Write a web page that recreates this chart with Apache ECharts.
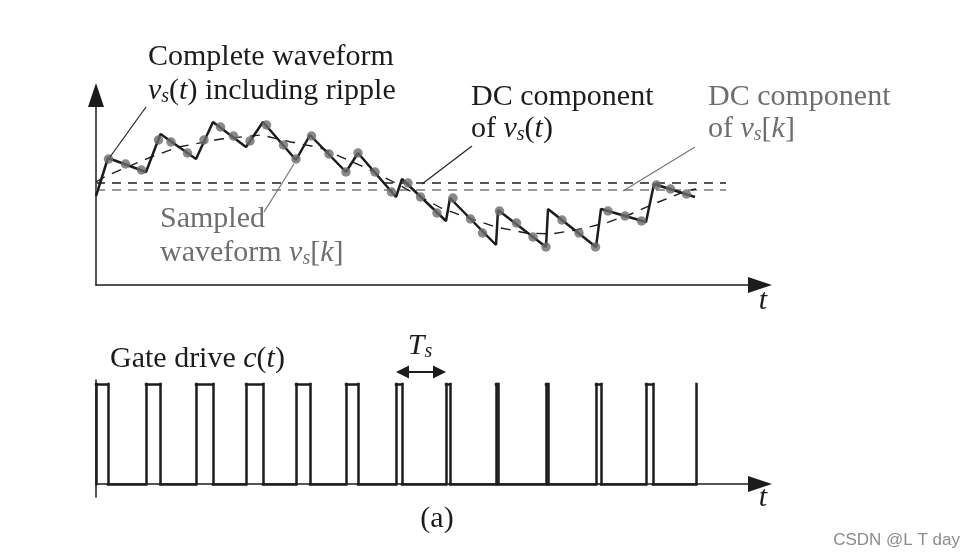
<!DOCTYPE html>
<html>
<head>
<meta charset="utf-8">
<script src="https://cdn.jsdelivr.net/npm/echarts@6/dist/echarts.min.js"></script>
<style>
html, body { margin: 0; padding: 0; background: #fff; }
#main { width: 975px; height: 559px; }
</style>
</head>
<body>
<div id="main"></div>
<script>
// time is in units of the switching period Ts
// corner points of the complete waveform vs(t)
var waveT = [0, 0.24, 1, 1.29, 2, 2.34, 3, 3.34, 4, 4.28, 5, 5.24, 6, 6.12, 7, 7.08, 8, 8.04, 9, 9.04, 10, 10.1, 11, 11.16, 11.98];
var waveV = [8.9, 12.7, 11.3, 15.1, 12.6, 16.3, 13.8, 16.3, 12.5, 15.0, 11.3, 13.2, 8.8, 10.6, 6.4, 8.7, 4.0, 7.5, 3.8, 7.6, 3.8, 7.6, 6.3, 10.1, 8.8];
// sampled waveform vs[k]
var sampT = [0.25, 0.59, 0.91, 1.25, 1.5, 1.83, 2.16, 2.49, 2.75, 3.08, 3.41, 3.75, 4.0, 4.31, 4.66, 5.0, 5.24, 5.58, 5.91, 6.24, 6.49, 6.82, 7.14, 7.49, 7.73, 8.07, 8.41, 8.74, 9.0, 9.32, 9.66, 9.99, 10.24, 10.58, 10.91, 11.21, 11.49, 11.81];
var sampV = [12.6, 12.1, 11.5, 14.5, 14.3, 13.2, 14.5, 15.8, 14.9, 14.4, 16.0, 14.0, 12.6, 14.9, 13.1, 11.3, 13.2, 11.3, 9.3, 10.2, 8.8, 7.2, 8.7, 6.6, 5.2, 7.4, 6.2, 4.8, 3.8, 6.5, 5.2, 3.8, 7.4, 6.9, 6.4, 10.0, 9.6, 9.1];
// local average of vs(t) (dashed)
var trendT = [0, 0.2, 1.1, 1.65, 2.5, 3.3, 3.9, 4.5, 5.4, 5.95, 6.9, 7.45, 8.0, 8.6, 9.1, 9.6, 10.2, 10.7, 11.2, 11.8, 12.0];
var trendV = [10.3, 10.9, 12.8, 13.8, 14.6, 15.0, 14.3, 13.7, 11.7, 10.3, 7.7, 6.7, 5.8, 5.2, 5.1, 5.5, 6.2, 7.1, 8.2, 9.4, 9.6];
// DC levels and where the dashed lines stop
var dcCont = 10.2;
var dcSamp = 9.5;
var dcEnd = 12.6;
// gate drive duty ratio of each period, last edge
var gateDuty = [0.24, 0.29, 0.34, 0.34, 0.28, 0.24, 0.12, 0.08, 0.035, 0.035, 0.10, 0.14];
var gateLast = 12;
// Ts marker
var tsFrom = 6, tsTo = 7, tsLevel = 1.12;
// leader lines [t0, v0, t1, v1]
var leadDark = [[1.0, 17.8, 0.28, 12.8], [6.52, 10.1, 7.52, 13.9]];
var leadGray = [[3.96, 12.1, 3.36, 7.3], [10.54, 9.4, 11.98, 13.8]];

function pairs(xs, ys) {
    var out = [];
    for (var i = 0; i < xs.length; i++) out.push([xs[i], ys[i]]);
    return out;
}
// gate drive as separate edge segments (keeps the very narrow pulses solid)
function gateSegments() {
    var pts = [];
    for (var k = 0; k < gateDuty.length; k++) {
        pts.push([k, 0], [k, 1], [k + gateDuty[k], 1], [k + gateDuty[k], 0]);
    }
    pts.push([gateLast, 0], [gateLast, 1]);
    var segs = [];
    for (var i = 1; i < pts.length; i++) segs.push({ coords: [pts[i - 1], pts[i]] });
    return segs;
}
function leaders(list) {
    return list.map(function (l) { return { coords: [[l[0], l[1]], [l[2], l[3]]] }; });
}

var BLACK = '#1c1c1c';
var GRAY = '#6e6e6e';
var SERIF = 'Liberation Serif';
var rich = {
    n: { fontFamily: SERIF, fontSize: 30, lineHeight: 32 },
    i: { fontFamily: SERIF, fontStyle: 'italic', fontSize: 30, lineHeight: 32 },
    s: { fontFamily: SERIF, fontStyle: 'italic', fontSize: 20, lineHeight: 19, verticalAlign: 'bottom' }
};
function txt(x, y, text, color, align) {
    return {
        type: 'text', x: x, y: y, silent: true,
        style: {
            text: text, fill: color, rich: rich,
            font: '30px "Liberation Serif"',
            align: align || 'left', verticalAlign: 'middle',
            textAlign: align || 'left', textVerticalAlign: 'middle'
        }
    };
}

var arrowLine = { show: true, symbol: ['none', 'triangle'], symbolSize: [16, 24], lineStyle: { color: BLACK, width: 1.5 } };
var hidden = { axisTick: { show: false }, axisLabel: { show: false }, splitLine: { show: false } };

var myChart = echarts.init(document.getElementById('main'));
var option = {
    animation: false,
    backgroundColor: '#fff',
    grid: [
        { left: 96, right: 215, top: 95, bottom: 274, outerBoundsMode: 'none' },
        { left: 96, right: 215, top: 380, bottom: 62, outerBoundsMode: 'none' }
    ],
    xAxis: [
        Object.assign({ type: 'value', gridIndex: 0, min: 0, max: 13.28, axisLine: arrowLine }, hidden),
        Object.assign({ type: 'value', gridIndex: 1, min: 0, max: 13.28, axisLine: arrowLine }, hidden)
    ],
    yAxis: [
        Object.assign({ type: 'value', gridIndex: 0, min: 0, max: 19, axisLine: arrowLine }, hidden),
        Object.assign({ type: 'value', gridIndex: 1, min: -0.13, max: 1.04,
            axisLine: { show: true, lineStyle: { color: BLACK, width: 1.5 } } }, hidden)
    ],
    series: [
        {
            type: 'line', xAxisIndex: 0, yAxisIndex: 0, symbol: 'none', z: 1,
            data: [[0, dcSamp], [dcEnd, dcSamp]],
            lineStyle: { color: '#999', width: 2, type: [9, 7] }
        },
        {
            type: 'line', xAxisIndex: 0, yAxisIndex: 0, symbol: 'none', z: 1,
            data: [[0, dcCont], [dcEnd, dcCont]],
            lineStyle: { color: '#555', width: 2, type: [9, 7] }
        },
        {
            type: 'line', xAxisIndex: 0, yAxisIndex: 0, symbol: 'none', z: 2,
            data: pairs(trendT, trendV),
            lineStyle: { color: BLACK, width: 1.4, type: [10, 8] }
        },
        {
            type: 'line', xAxisIndex: 0, yAxisIndex: 0, symbol: 'none', z: 3,
            data: pairs(waveT, waveV),
            lineStyle: { color: BLACK, width: 2.5 }
        },
        {
            type: 'scatter', xAxisIndex: 0, yAxisIndex: 0, z: 4,
            symbolSize: 9.5, data: pairs(sampT, sampV),
            itemStyle: { color: '#6b6b6b' }
        },
        {
            type: 'lines', coordinateSystem: 'cartesian2d', xAxisIndex: 0, yAxisIndex: 0, z: 5,
            data: leaders(leadDark), lineStyle: { color: '#222', width: 1.2, opacity: 1 }
        },
        {
            type: 'lines', coordinateSystem: 'cartesian2d', xAxisIndex: 0, yAxisIndex: 0, z: 5,
            data: leaders(leadGray), lineStyle: { color: '#777', width: 1.2, opacity: 1 }
        },
        {
            type: 'lines', coordinateSystem: 'cartesian2d', xAxisIndex: 1, yAxisIndex: 1, z: 3,
            data: gateSegments(),
            lineStyle: { color: BLACK, width: 2.5, opacity: 1, cap: 'square' }
        },
        {
            type: 'lines', coordinateSystem: 'cartesian2d', xAxisIndex: 1, yAxisIndex: 1, z: 5, clip: false,
            symbol: ['triangle', 'triangle'], symbolSize: 13,
            data: [{ coords: [[tsFrom + 0.13, tsLevel], [tsTo - 0.13, tsLevel]] }],
            lineStyle: { color: BLACK, width: 1.8, opacity: 1 }
        }
    ],
    graphic: [
        txt(148, 57, '{n|Complete waveform}', BLACK),
        txt(148, 91, '{i|v}{s|s}{n|(}{i|t}{n|) including ripple}', BLACK),
        txt(471, 97, '{n|DC component}', BLACK),
        txt(471, 129, '{n|of }{i|v}{s|s}{n|(}{i|t}{n|)}', BLACK),
        txt(708, 97, '{n|DC component}', GRAY),
        txt(708, 129, '{n|of }{i|v}{s|s}{n|[}{i|k}{n|]}', GRAY),
        txt(160, 219, '{n|Sampled}', GRAY),
        txt(160, 253, '{n|waveform }{i|v}{s|s}{n|[}{i|k}{n|]}', GRAY),
        txt(110, 359, '{n|Gate drive }{i|c}{n|(}{i|t}{n|)}', BLACK),
        txt(420, 346, '{i|T}{s|s}', BLACK, 'center'),
        txt(763, 301, '{i|t}', BLACK, 'center'),
        txt(763, 498, '{i|t}', BLACK, 'center'),
        txt(437, 519, '{n|(a)}', BLACK, 'center'),
        {
            type: 'text', x: 960, y: 540, silent: true,
            style: { text: 'CSDN @L T day', fill: '#8c8c8c', font: '17px "Liberation Sans"',
                align: 'right', verticalAlign: 'middle', textAlign: 'right', textVerticalAlign: 'middle' }
        }
    ]
};
myChart.setOption(option);
</script>
</body>
</html>
